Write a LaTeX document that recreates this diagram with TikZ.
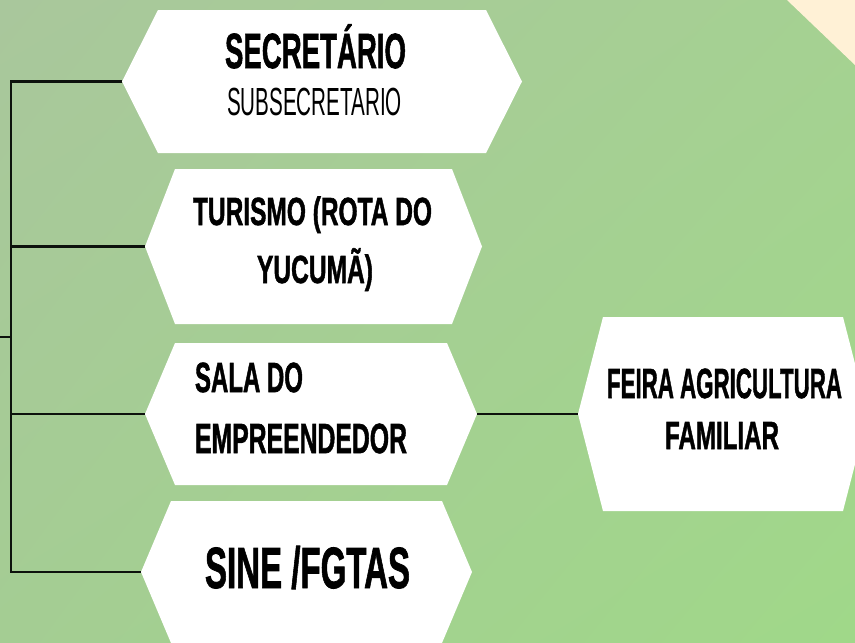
\documentclass[tikz,border=0pt]{standalone}
\usepackage{fontspec}
\setmainfont{Liberation Sans}[BoldFeatures={FakeBold=1.6}]
\usepackage{graphicx}
\usetikzlibrary{shadings}
\definecolor{bgUL}{HTML}{A9C79C}
\definecolor{bgUR}{HTML}{A5D192}
\definecolor{bgLL}{HTML}{A4CD93}
\definecolor{bgLR}{HTML}{A0D889}
\definecolor{beige}{HTML}{FFF1D6}
\definecolor{ink}{HTML}{0D120D}
\newsavebox\fitA
\newsavebox\fitB
% #1 font, #2 target width, #3 target cap height, #4 text
\newcommand\fitline[4]{\sbox\fitA{#1#4}\sbox\fitB{#1E}%
  \edef\fitsx{\fpeval{(#2)/(\the\wd\fitA)}}%
  \edef\fitsy{\fpeval{(#3)/(\the\ht\fitB)}}%
  \scalebox{\fitsx}[\fitsy]{#1#4}}
\newcommand\hexfill[2]{\fill[white] (#1.west) -- ([xshift=#2]#1.north west) -- ([xshift=-#2]#1.north east) -- (#1.east) -- ([xshift=-#2]#1.south east) -- ([xshift=#2]#1.south west) -- cycle;}
\begin{document}
\begin{tikzpicture}[x=1pt,y=-1pt,
  hexbox/.style={rectangle, draw=none, inner sep=0pt, outer sep=0pt},
  txt/.style={inner sep=0pt, outer sep=0pt, text=black},
  conn/.style={draw=ink, line width=2.4pt, line join=miter}]
\useasboundingbox (0,0) rectangle (855,643);
\clip (0,0) rectangle (855,643);
\shade[upper left=bgUL, upper right=bgUR, lower left=bgLL, lower right=bgLR] (0,0) rectangle (855,643);
\fill[beige] (787,0) -- (856,0) -- (856,66) -- cycle;

\node[hexbox, minimum width=400pt, minimum height=143pt] (sec) at (322,81.5) {};
\node[hexbox, minimum width=337pt, minimum height=155pt] (tur) at (313.5,246.5) {};
\node[hexbox, minimum width=332pt, minimum height=142pt] (sala) at (311,414) {};
\node[hexbox, minimum width=331pt, minimum height=142pt] (sine) at (306.5,572) {};
\node[hexbox, minimum width=290pt, minimum height=194pt] (feira) at (723,414) {};
\hexfill{sec}{36pt}
\hexfill{tur}{30pt}
\hexfill{sala}{30pt}
\hexfill{sine}{30pt}
\hexfill{feira}{25pt}

\coordinate (bus) at (11,0);
\coordinate (feed) at (0,337);
\draw[conn] (sec.west) -- (sec.west -| bus) -- (sine.west -| bus) -- (sine.west);
\draw[conn] (tur.west -| bus) -- (tur.west);
\draw[conn] (sala.west -| bus) -- (sala.west);
\draw[conn] (feed) -- (feed -| bus);
\draw[conn] (sala.east) -- (feira.west);

\node[txt, anchor=base] (secA) at (315.5,68) {\fitline{\bfseries}{181pt}{34pt}{SECRETÁRIO}};
\node[txt, anchor=base] (secB) at (314.5,115) {\fitline{\mdseries}{175pt}{27pt}{SUBSECRETARIO}};
\node[txt, anchor=base] (turA) at (312.5,225) {\fitline{\bfseries}{239pt}{27pt}{TURISMO (ROTA DO}};
\node[txt, anchor=base] (turB) at (315,283) {\fitline{\bfseries}{116pt}{27pt}{YUCUMÃ)}};
\node[txt, anchor=base west] (salaA) at (195,392) {\fitline{\bfseries}{108pt}{29pt}{SALA DO}};
\node[txt, anchor=base west] (salaB) at (195,453) {\fitline{\bfseries}{212pt}{29pt}{EMPREENDEDOR}};
\node[txt, anchor=base] (sineA) at (307.5,588) {\fitline{\bfseries}{205pt}{40pt}{SINE /FGTAS}};
\node[txt, anchor=base] (feiraA) at (724.5,398) {\fitline{\bfseries}{235pt}{29pt}{FEIRA AGRICULTURA}};
\node[txt, anchor=base] (feiraB) at (722,449) {\fitline{\bfseries}{114pt}{27pt}{FAMILIAR}};
\end{tikzpicture}
\end{document}
